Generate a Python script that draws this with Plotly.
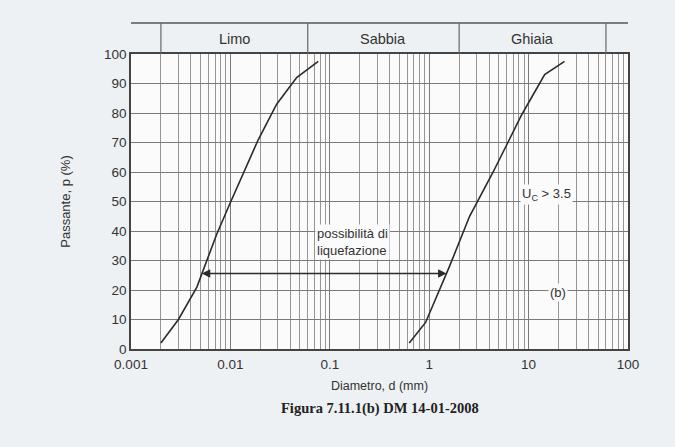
import numpy as np
import plotly.graph_objects as go

# ---- data ----
left_d = [0.0020, 0.0030, 0.0046, 0.0073, 0.0098, 0.0191, 0.0292, 0.0464, 0.0765]
left_p = [2, 10, 21, 39, 49, 71, 83, 92, 97.5]
right_d = [0.63, 0.92, 1.6, 2.55, 4.4, 8.4, 10.6, 14.5, 23]
right_p = [2, 9, 28, 45, 60, 79, 85, 93, 97.5]

zone_names = ["Limo", "Sabbia", "Ghiaia"]
zone_bounds = [0.002, 0.06, 2, 60]

x_tickvals = [0.001, 0.01, 0.1, 1, 10, 100]
x_ticktext = ["0.001", "0.01", "0.1", "1", "10", "100"]
y_tickvals = list(range(0, 101, 10))

arrow_from = 0.00516
arrow_to = 1.545
arrow_p = 25.6

FONT = "Liberation Sans, Arial, sans-serif"
INK = "#2b2b2b"
GRID = "#7a7a7a"

fig = go.Figure()
fig.add_trace(go.Scatter(x=left_d, y=left_p, mode="lines",
                         line=dict(color=INK, width=1.6), showlegend=False))
fig.add_trace(go.Scatter(x=right_d, y=right_p, mode="lines",
                         line=dict(color=INK, width=1.6), showlegend=False))

# header band (zones)
HB = 1.105
fig.add_shape(type="line", xref="paper", yref="paper", x0=0, x1=1, y0=HB, y1=HB,
              line=dict(color="#555", width=1.6))
for b in zone_bounds:
    fig.add_shape(type="line", xref="x", yref="paper", x0=b, x1=b, y0=1, y1=HB,
                  line=dict(color="#666", width=1.2))
for i, name in enumerate(zone_names):
    xc = (np.log10(zone_bounds[i]) + np.log10(zone_bounds[i + 1])) / 2
    fig.add_annotation(x=xc, y=(1 + HB) / 2, xref="x", yref="paper", text=name,
                       showarrow=False, yanchor="middle", xanchor="center",
                       font=dict(family=FONT, size=14.5, color="#333"))

# double arrow
fig.add_annotation(x=np.log10(arrow_from), y=arrow_p, ax=np.log10(arrow_to), ay=arrow_p,
                   xref="x", yref="y", axref="x", ayref="y", text="",
                   showarrow=True, arrowside="end+start", arrowhead=2, arrowsize=1.2,
                   arrowwidth=1.4, arrowcolor=INK)

bg = "#fbfbfb"
fig.add_annotation(x=np.log10(0.168), y=36.3, xref="x", yref="y",
                   text="possibilità di<br>liquefazione", showarrow=False, align="left",
                   bgcolor=bg, font=dict(family=FONT, size=13, color="#333"))
fig.add_annotation(x=np.log10(15.1), y=52.5, xref="x", yref="y",
                   text="U<sub>C</sub> > 3.5", showarrow=False, bgcolor=bg,
                   font=dict(family=FONT, size=13, color="#333"))
fig.add_annotation(x=np.log10(19.9), y=19.3, xref="x", yref="y",
                   text="(b)", showarrow=False, bgcolor=bg,
                   font=dict(family=FONT, size=13, color="#333"))

# caption
fig.add_annotation(x=0.5, y=-0.20, xref="paper", yref="paper", yanchor="middle",
                   text="<b>Figura 7.11.1(b) DM 14-01-2008</b>", showarrow=False,
                   font=dict(family="Liberation Serif, Times New Roman, serif", size=14.5, color="#222"))

fig.update_layout(
    width=675, height=447,
    margin=dict(l=131, r=47, t=54, b=98, autoexpand=False),
    paper_bgcolor="#eef1f4",
    plot_bgcolor=bg,
    font=dict(family=FONT, color="#333", size=13.5),
    showlegend=False,
)
fig.update_xaxes(
    type="log", range=[-3, 2],
    tickvals=x_tickvals, ticktext=x_ticktext,
    showgrid=True, gridcolor=GRID, gridwidth=1.2,
    minor=dict(showgrid=True, gridcolor="#969696", gridwidth=1, dtick="D1"),
    showline=True, linecolor="#444", linewidth=1.5, mirror=True,
    ticks="", zeroline=False, automargin=False, ticklabelstandoff=2,
    title=dict(text="Diametro, d (mm)", standoff=10, font=dict(size=12.5)),
)
fig.update_yaxes(
    range=[0, 100], tickvals=y_tickvals,
    showgrid=True, gridcolor=GRID, gridwidth=1.3,
    showline=True, linecolor="#444", linewidth=1.5, mirror=True,
    ticks="", zeroline=False, automargin=False,
    title=dict(text="Passante, p (%)", standoff=30, font=dict(size=13)),
)

fig.write_html("out.html", config={"displayModeBar": False},
               post_script="document.body.style.margin='0';document.body.style.background='#eef1f4';")
